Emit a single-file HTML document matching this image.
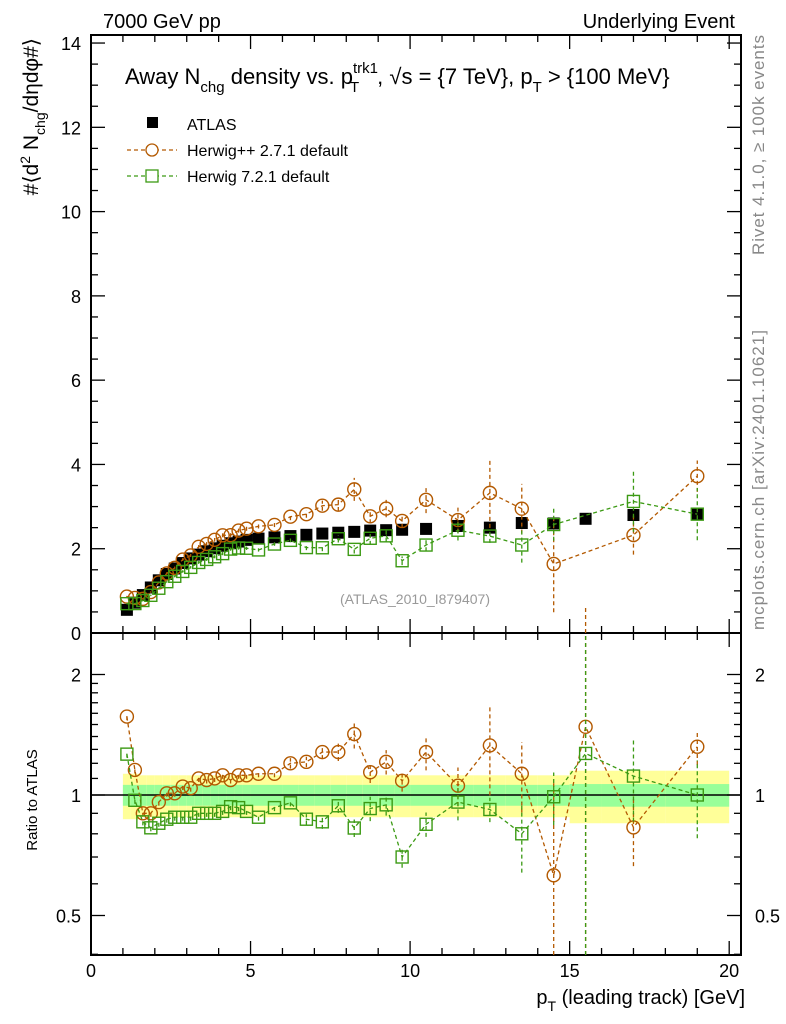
<!DOCTYPE html>
<html><head><meta charset="utf-8"><style>
body{margin:0;background:#fff}
svg{display:block;font-family:"Liberation Sans",sans-serif}
</style></head><body>
<svg id="c" width="786" height="1024" viewBox="0 0 786 1024" xmlns="http://www.w3.org/2000/svg">
<g id="bands"></g>
<g id="axes" stroke="#000" fill="none"></g>
<g id="marks"></g>
<g id="texts">
<text x="103" y="28" font-size="20">7000 GeV pp</text>
<text x="735" y="28" font-size="20" text-anchor="end">Underlying Event</text>
<text x="125" y="84" font-size="22">Away N<tspan dy="8" font-size="15">chg</tspan><tspan dy="-8"> density vs. p</tspan><tspan dy="-11" font-size="15">trk1</tspan><tspan dx="-28" dy="19" font-size="15">T</tspan><tspan dx="18" dy="-8">, √s = {7 TeV}, p</tspan><tspan dy="8" font-size="15">T</tspan><tspan dy="-8"> &gt; {100 MeV}</tspan></text>
<text x="415" y="604" font-size="14" fill="#999" text-anchor="middle">(ATLAS_2010_I879407)</text>
<text transform="translate(764,255) rotate(-90)" font-size="17" fill="#888" textLength="220">Rivet 4.1.0, ≥ 100k events</text>
<text transform="translate(764,630) rotate(-90)" font-size="17" fill="#888" textLength="300">mcplots.cern.ch [arXiv:2401.10621]</text>
<text transform="translate(38,38) rotate(-90)" font-size="21" text-anchor="end">#⟨d<tspan dy="-8" font-size="14">2</tspan><tspan dy="8"> N</tspan><tspan dy="7" font-size="14">chg</tspan><tspan dy="-7">/dηdφ#⟩</tspan></text>
<text transform="translate(37,800) rotate(-90)" font-size="15" text-anchor="middle">Ratio to ATLAS</text>
<text x="745" y="1004" font-size="20" text-anchor="end">p<tspan dy="7" font-size="14">T</tspan><tspan dy="-7"> (leading track) [GeV]</tspan></text>
</g>
<g id="legend">
<rect x="147" y="117" width="11" height="11" fill="#000"/>
<text x="187" y="130" font-size="16">ATLAS</text>
<line x1="127" y1="150" x2="177" y2="150" stroke="#b35900" stroke-dasharray="4,3" stroke-width="1.3"/>
<circle cx="152" cy="150" r="6" fill="#fff" stroke="#b35900" stroke-width="1.3"/>
<text x="187" y="156" font-size="16">Herwig++ 2.7.1 default</text>
<line x1="127" y1="176" x2="177" y2="176" stroke="#3c9a14" stroke-dasharray="4,3" stroke-width="1.3"/>
<rect x="146" y="170" width="12" height="12" fill="#fff" stroke="#3c9a14" stroke-width="1.3"/>
<text x="187" y="182" font-size="16">Herwig 7.2.1 default</text>
</g>
</svg>
<script>
const xCenters=[1.125,1.375,1.625,1.875,2.125,2.375,2.625,2.875,3.125,3.375,3.625,3.875,4.125,4.375,4.625,4.875,5.25,5.75,6.25,6.75,7.25,7.75,8.25,8.75,9.25,9.75,10.5,11.5,12.5,13.5,14.5,15.5,17,19];
const xEdges=[1,1.25,1.5,1.75,2,2.25,2.5,2.75,3,3.25,3.5,3.75,4,4.25,4.5,4.75,5,5.5,6,6.5,7,7.5,8,8.5,9,9.5,10,11,12,13,14,15,16,18,20];
const atlasVals=[0.55,0.72,0.90,1.08,1.25,1.40,1.53,1.66,1.77,1.86,1.94,2.01,2.07,2.13,2.17,2.21,2.24,2.27,2.30,2.33,2.36,2.38,2.40,2.43,2.44,2.45,2.47,2.54,2.50,2.61,2.60,2.71,2.80,2.82];
const hppRatio=[1.57,1.155,0.90,0.90,0.96,1.01,1.01,1.05,1.04,1.10,1.09,1.10,1.12,1.09,1.12,1.12,1.13,1.13,1.20,1.21,1.28,1.28,1.42,1.14,1.21,1.085,1.28,1.055,1.33,1.13,0.63,1.48,0.83,1.32];
const h7Ratio=[1.265,0.97,0.857,0.828,0.85,0.87,0.88,0.88,0.88,0.90,0.90,0.90,0.91,0.935,0.93,0.91,0.88,0.93,0.956,0.87,0.857,0.94,0.827,0.925,0.945,0.70,0.845,0.96,0.92,0.80,0.99,1.27,1.115,1.0];
const hppErr=[0.02,0.02,0.02,0.02,0.02,0.02,0.02,0.02,0.02,0.02,0.02,0.02,0.02,0.02,0.02,0.02,0.02,0.02,0.03,0.03,0.04,0.05,0.08,0.06,0.07,0.06,0.1,0.11,0.25,0.2,0.7,1.0,0.2,0.1];
const h7Err=[0.02,0.02,0.02,0.02,0.02,0.02,0.02,0.02,0.02,0.02,0.02,0.02,0.02,0.02,0.02,0.02,0.02,0.02,0.02,0.03,0.04,0.04,0.05,0.07,0.06,0.06,0.07,0.1,0.07,0.2,0.15,1.0,0.23,0.22];
const showUpper=[1,1,1,1,1,1,1,1,1,1,1,1,1,1,1,1,1,1,1,1,1,1,1,1,1,1,1,1,1,1,1,0,1,1];
const bandTot=[0.13,0.13,0.12,0.12,0.12,0.12,0.12,0.12,0.12,0.12,0.12,0.12,0.12,0.12,0.12,0.12,0.12,0.12,0.12,0.12,0.12,0.12,0.12,0.12,0.12,0.12,0.12,0.12,0.12,0.12,0.12,0.15,0.15,0.15];
const bandStat=[0.06,0.06,0.06,0.06,0.06,0.06,0.06,0.06,0.06,0.06,0.06,0.06,0.06,0.06,0.06,0.06,0.06,0.06,0.06,0.06,0.06,0.06,0.06,0.06,0.06,0.06,0.06,0.06,0.06,0.06,0.06,0.065,0.065,0.065];
const yTicks=[0,2,4,6,8,10,12,14];
const xTicks=[0,5,10,15,20];
const rTicks=[0.5,1,2];

const NS="http://www.w3.org/2000/svg";
const L=91,R=741,T=35,M=633,B=955;
const X=v=>L+v*(R-L)/20.37;
const Y=v=>633-v*42.14;
const RY=v=>795-120.5*Math.log2(v);
function mk(tag,attrs,parent){const e=document.createElementNS(NS,tag);for(const k in attrs)e.setAttribute(k,attrs[k]);document.getElementById(parent).appendChild(e);return e;}
for(let i=0;i<xCenters.length;i++){
 const x1=X(xEdges[i]),x2=X(xEdges[i+1]);
 let e=mk('rect',{x:x1,y:RY(1+bandTot[i]),width:x2-x1,height:RY(1-bandTot[i])-RY(1+bandTot[i]),fill:'#ffff99'},'bands');
 
 
 e=mk('rect',{x:x1,y:RY(1+bandStat[i]),width:x2-x1,height:RY(1-bandStat[i])-RY(1+bandStat[i]),fill:'#99ff99'},'bands');
 
 
}
mk('line',{x1:L,x2:R,y1:RY(1),y2:RY(1),stroke:'#000','stroke-width':1.5},'bands');
mk('rect',{x:L,y:T,width:R-L,height:M-T,'stroke-width':2},'axes');
mk('rect',{x:L,y:M,width:R-L,height:B-M,'stroke-width':2},'axes');
function ln(x1,y1,x2,y2){mk('line',{x1,y1,x2,y2,'stroke-width':1.3},'axes');}
for(let v=0;v<=20;v++){const x=X(v),len=v%5==0?14:7;ln(x,M,x,M-len);ln(x,T,x,T+len);ln(x,B,x,B-len);ln(x,M,x,M+len);}
for(let v=0;v<=14;v+=0.5){const y=Y(v),len=(v%2==0)?14:7;ln(L,y,L+len,y);ln(R,y,R-len,y);}
[0.4,0.5,0.6,0.7,0.8,0.9,1,1.1,1.2,1.3,1.4,1.5,1.6,1.7,1.8,1.9,2].forEach(v=>{const y=RY(v),len=rTicks.includes(v)?14:7;ln(L,y,L+len,y);ln(R,y,R-len,y);});
yTicks.forEach(v=>{const t=mk('text',{x:L-10,y:Y(v)+7,'font-size':18,'text-anchor':'end'},'texts');t.textContent=v;
 
 });
xTicks.forEach(v=>{const t=mk('text',{x:X(v),y:977,'font-size':18,'text-anchor':'middle'},'texts');t.textContent=v;
 
 });
rTicks.forEach(v=>{[[L-10,'end'],[R+14,'start']].forEach(([x,a])=>{const t=mk('text',{x:x,y:RY(v)+7,'font-size':18,'text-anchor':a},'texts');t.textContent=v;
 
 });});
function series(ratio,err,color,shape,name){
 const up=[],lo=[];
 for(let i=0;i<xCenters.length;i++){
  const x=X(xCenters[i]);
  const r=ratio[i];
  lo.push([x,RY(r)]);
  const rl=Math.max(r*(1-err[i]),0.3),rh=r*(1+err[i]);
  mk('line',{x1:x,x2:x,y1:Math.min(RY(rl),B),y2:RY(rh),stroke:color,'stroke-dasharray':'4,3','stroke-width':1.3},'marks');
  if(showUpper[i]){
   const v=r*atlasVals[i];
   const y=Y(v);up.push([x,y]);
   mk('line',{x1:x,x2:x,y1:Math.min(Y(v*(1-err[i])),M),y2:Y(v*(1+err[i])),stroke:color,'stroke-dasharray':'4,3','stroke-width':1.3},'marks');
  }
 }
 [up,lo].forEach((pts,k)=>{
  const p=mk('polyline',{points:pts.map(a=>a.join(',')).join(' '),fill:'none',stroke:color,'stroke-dasharray':'4,3','stroke-width':1.3},'marks');
  
  
  pts.forEach(([x,y])=>{
   let m;
   if(shape=='c')m=mk('circle',{cx:x,cy:y,r:6.5,fill:'none',stroke:color,'stroke-width':1.4},'marks');
   else m=mk('rect',{x:x-6,y:y-6,width:12,height:12,fill:'none',stroke:color,'stroke-width':1.4},'marks');
   
   
  });
 });
}
for(let i=0;i<xCenters.length;i++){
 const m=mk('rect',{x:X(xCenters[i])-6,y:Y(atlasVals[i])-6,width:12,height:12,fill:'#000'},'marks');
 
 
}
series(hppRatio,hppErr,'#b35900','c','herwigpp');
series(h7Ratio,h7Err,'#3c9a14','s','herwig7');
</script>
</body></html>
